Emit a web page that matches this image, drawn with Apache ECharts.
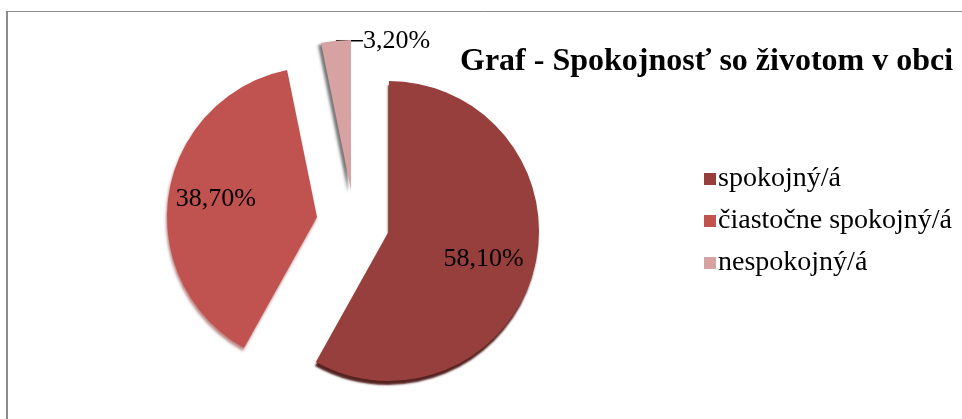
<!DOCTYPE html>
<html>
<head>
<meta charset="utf-8">
<script src="https://cdn.jsdelivr.net/npm/echarts@6/dist/echarts.min.js"></script>
<style>
html,body{margin:0;padding:0;background:#fff;}
#chart{width:962px;height:419px;}
</style>
</head>
<body>
<div id="chart"></div>
<script>
// ---- data ----
var categories = ['spokojný/á', 'čiastočne spokojný/á', 'nespokojný/á'];
var values = [58.1, 38.7, 3.2];
var labels = ['58,10%', '38,70%', '3,20%'];
var titleText = 'Graf - Spokojnosť so životom v obci';

// ---- styles ----
var colors = ['#963f3d', '#c0524f', '#d7a3a2'];
var centers = [[389, 231], [317, 217], [351, 190]];
var shadows = [
  {shadowColor: 'rgba(75,22,20,0.95)', shadowBlur: 2, shadowOffsetX: -1, shadowOffsetY: 4},
  {shadowColor: 'rgba(140,50,48,0.6)', shadowBlur: 3, shadowOffsetX: -1, shadowOffsetY: 3},
  {shadowColor: 'rgba(60,60,60,0.7)', shadowBlur: 3, shadowOffsetX: -3, shadowOffsetY: 2}
];
var labelShift = [[19, 9], [-24, -6], null];
var serifFont = '"Liberation Serif", "Times New Roman", serif';

var chart = echarts.init(document.getElementById('chart'), null, {renderer: 'canvas'});

function makeSeries(k) {
  return {
    type: 'pie',
    name: categories[k],
    center: centers[k],
    radius: [0, 150],
    startAngle: 90,
    clockwise: true,
    animation: false,
    silent: true,
    z: k === 0 ? 3 : 2,
    legendHoverLink: false,
    labelLine: {show: k === 2, length: 1, length2: 14, lineStyle: {color: '#000', width: 1.5}},
    labelLayout: function (params) {
      if (params.dataIndex !== k) return {};
      if (labelShift[k]) return {dx: labelShift[k][0], dy: labelShift[k][1]};
      var p0 = params.labelLinePoints ? params.labelLinePoints[0] : [336, 41];
      return {x: p0[0] + 27, y: p0[1], align: 'left', verticalAlign: 'middle'};
    },
    data: categories.map(function (name, i) {
      var visible = i === k;
      return {
        name: name,
        value: values[i],
        itemStyle: visible ? Object.assign({color: colors[i]}, shadows[i]) : {color: 'rgba(0,0,0,0)'},
        label: visible ? {
          show: true,
          position: k === 2 ? 'outside' : 'inside',
          formatter: labels[i],
          color: '#000',
          fontFamily: serifFont,
          fontSize: 26
        } : {show: false},
        labelLine: {show: visible && k === 2, lineStyle: {color: '#000', width: 1.5}}
      };
    })
  };
}

var option = {
  backgroundColor: '#fff',
  title: {
    text: titleText,
    left: 455,
    top: 41,
    textStyle: {fontFamily: serifFont, fontWeight: 'bold', fontSize: 32, color: '#000'}
  },
  legend: {
    orient: 'vertical',
    left: 699,
    top: 160,
    itemGap: 14,
    icon: 'rect',
    itemWidth: 12,
    itemHeight: 12,
    selectedMode: false,
    textStyle: {fontFamily: serifFont, fontSize: 28, color: '#000', lineHeight: 28, padding: [0, 0, 0, -3]},
    data: categories.map(function (name, i) {
      return {name: name, itemStyle: {color: colors[i]}};
    })
  },
  graphic: [
    {type: 'line', shape: {x1: 7, y1: 11.5, x2: 962, y2: 11.5}, style: {stroke: '#8c8c8c', lineWidth: 1}},
    {type: 'line', shape: {x1: 7, y1: 11, x2: 7, y2: 419}, style: {stroke: '#8c8c8c', lineWidth: 2}}
  ],
  series: [makeSeries(2), makeSeries(1), makeSeries(0)]
};
chart.setOption(option);
</script>
</body>
</html>
